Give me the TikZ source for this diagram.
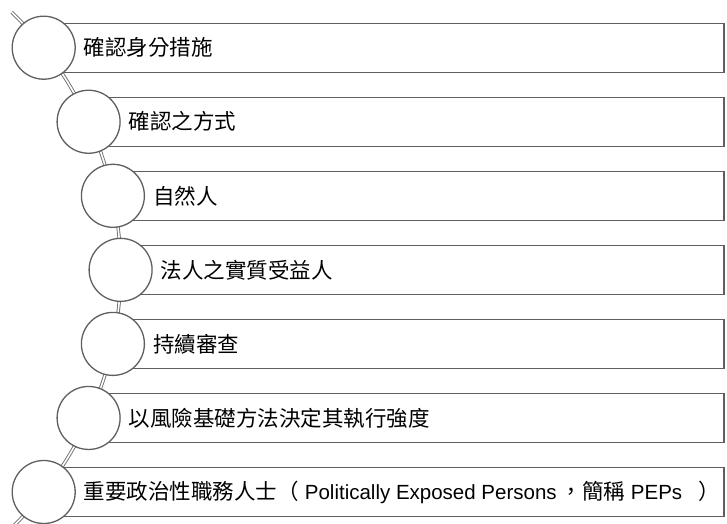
\documentclass[tikz,border=0pt]{standalone}
\usepackage{fontspec}
\setmainfont{Liberation Sans}
\newfontfamily\cjk{Noto Sans CJK TC}
\newcommand{\cjkt}{\cjk\fontsize{21.5}{24}\selectfont}
\definecolor{edge}{RGB}{95,95,95}
\definecolor{conn}{RGB}{110,110,110}
\begin{document}
\begin{tikzpicture}[x=1pt,y=1pt,
  rowbox/.style={draw=edge,line width=1.3pt,fill=white},
  bead/.style={circle,draw=edge,line width=1.3pt,fill=white,minimum size=63pt,inner sep=0pt},
  label/.style={anchor=west,inner sep=0pt,font=\fontsize{20.5}{24}\selectfont},
  arcline/.style={draw=conn,line width=0.9pt,double=white,double distance=1.6pt}]
\useasboundingbox (0,0) rectangle (727,523);
% arc through the bead centres
\coordinate (arcC) at (-239,253);
\draw[arcline] (arcC) ++(45.8:359.6) arc[start angle=45.8,end angle=-45.8,radius=359.6];
% rows
\foreach \i/\cx/\t in {%
  0/43.7/{\cjkt 確認身分措施},
  1/88.6/{\cjkt 確認之方式},
  2/112.9/{\cjkt 自然人},
  3/120.6/{\cjkt 法人之實質受益人},
  4/112.9/{\cjkt 持續審查},
  5/88.6/{\cjkt 以風險基礎方法決定其執行強度},
  6/43.7/{{\cjkt 重要政治性職務人士（}\hspace{6pt}Politically Exposed Persons\hspace{4pt}{\cjkt ，簡稱} PEPs\hspace{16pt}{\cjkt ）}}}{
  \pgfmathsetmacro{\cy}{523-47.7-74.05*\i}
  \draw[rowbox] (\cx,\cy-24.5) rectangle (724,\cy+24.5);
  \node[bead] (b\i) at (\cx,\cy) {};
  \node[label] (t\i) at (\cx+40,\cy) {\t};
}
\end{tikzpicture}
\end{document}
